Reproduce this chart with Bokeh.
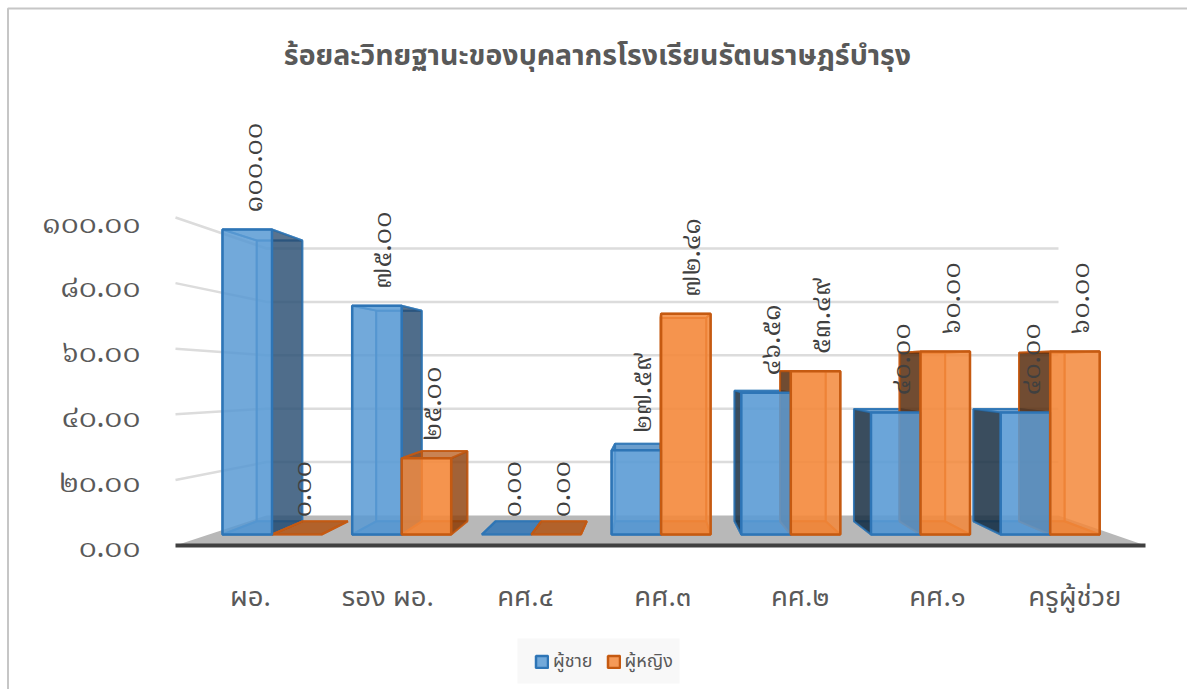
import math
from bokeh.plotting import figure
from bokeh.embed import file_html
from bokeh.resources import INLINE
from bokeh.models import (ColumnDataSource, Range1d, LinearAxis, FixedTicker, Legend, LegendItem)
from bokeh.core.properties import value

# ---------- data ----------
categories = ["ผอ.", "รอง ผอ.", "คศ.๔", "คศ.๓", "คศ.๒", "คศ.๑", "ครูผู้ช่วย"]
male = [100.0, 75.0, 0.0, 27.59, 46.51, 40.0, 40.0]
female = [0.0, 25.0, 0.0, 72.41, 53.49, 60.0, 60.0]
y_ticks = [0, 20, 40, 60, 80, 100]
series_names = ["ผู้ชาย", "ผู้หญิง"]
title_text = "ร้อยละวิทยฐานะของบุคลากรโรงเรียนรัตนราษฎร์บำรุง"

# ---------- layout: a 3D look, page pixels ----------
W, H = 1187, 689
FONT = "Noto Sans Thai"
NUMFONT = "Noto Serif Thai"
TH = str.maketrans("0123456789", "๐๑๒๓๔๕๖๗๘๙")
def thai(v): return f"{v:.2f}".translate(TH)

K, VX, VY = 0.921, 655.0, 367.0           # bar depth projection
BASE, PX = 534.0, 3.05                    # front plane of the bars
X0, STEP, BW = 222.0, 129.7, 49.5
def prj(x, y): return VX + K * (x - VX), VY + K * (y - VY)

WL, WR = 175.0, 1145.0                    # wall / floor plane
WBL, WBR = 266.0, 1058.0
WF0, WFU, WB0, WBU = 545.0, 3.28, 515.0, 2.67

p = figure(width=W, height=H, x_range=Range1d(0, W), y_range=Range1d(H, 0),
           output_backend="svg", toolbar_location=None, min_border=0,
           x_axis_type=None, y_axis_type=None)
p.xgrid.visible = False
p.ygrid.visible = False
p.outline_line_color = None
p.background_fill_color = "white"

# chart frame: left and top edges only are visible
p.line([7.5, 7.5, W], [H, 8, 8], line_color="#C6C6C6", line_width=2)

# value and category scales of the axes
TICK0, TICKU = 548.0, 3.24
p.extra_y_ranges["val"] = Range1d((TICK0 - H) / TICKU, TICK0 / TICKU)
C0, CS = 250.0, 137.4
p.extra_x_ranges["cat"] = Range1d(-C0 / CS, (W - C0) / CS)

yax = LinearAxis(y_range_name="val", fixed_location=150, ticker=FixedTicker(ticks=y_ticks),
                 major_label_overrides={t: thai(t) for t in y_ticks},
                 axis_line_color=None, major_tick_line_color=None, minor_tick_line_color=None,
                 major_label_text_font=NUMFONT, major_label_text_font_size="30px",
                 major_label_text_color="#595959", major_label_standoff=4)
p.add_layout(yax, "left")
cat_idx = list(range(len(categories)))
xax = LinearAxis(x_range_name="cat", fixed_location=570, ticker=FixedTicker(ticks=cat_idx),
                 major_label_overrides=dict(zip(cat_idx, categories)),
                 axis_line_color=None, major_tick_line_color=None, minor_tick_line_color=None,
                 major_label_text_font=FONT, major_label_text_font_size="27.5px",
                 major_label_text_color="#595959", major_label_standoff=0)
p.add_layout(xax, "below")

# title
p.text(x=[597], y=[56], text=[title_text], text_align="center", text_baseline="middle",
       text_font=value(FONT), text_font_style="bold", text_font_size="28.5px", text_color="#595959")

# legend backing panel
p.quad(left=[517], right=[679], top=[638], bottom=[683], fill_color="#F8F8F8", line_color=None)

# floor, gridlines
p.patch([WL, WR, WBR, WBL], [WF0, WF0, WB0, WB0], fill_color="#B8B8B8", line_color=None)
gx = [[WL, WBL, WBR] for t in y_ticks if t > 0]
gy = [[WF0 - t * WFU, WB0 - t * WBU, WB0 - t * WBU] for t in y_ticks if t > 0]
p.multi_line(gx, gy, line_color="#DCDCDC", line_width=2.5)
p.line([WL, WR], [WF0, WF0], line_color="#404040", line_width=4)

STY = [dict(front="#5B9BD5", edge="#2E75B6", back="#5B9BD5", left="#16293A", right="#27486A", top="#2E75B6", bottom="#2E75B6"),
       dict(front="#F5893C", edge="#C55A11", back="#ED7D31", left="#4F2A10", right="#843C0C", top="#A84F10", bottom="#C55A11")]
ALPHA = dict(back=0.35, left=0.8, right=0.75, top=0.6, bottom=0.6)

def faces(i, s, v):
    xl = X0 + STEP * i + s * BW
    xr = xl + BW
    yt = BASE - v * PX
    blx, bty = prj(xl, yt)
    brx, bby = prj(xr, BASE)
    out = {"back": ([blx, brx, brx, blx], [bty, bty, bby, bby]),
           "bottom": ([xl, xr, brx, blx], [BASE, BASE, bby, bby]),
           "top": ([xl, xr, brx, blx], [yt, yt, bty, bty]),
           "left": ([xl, blx, blx, xl], [yt, bty, bby, BASE]),
           "right": ([xr, brx, brx, xr], [yt, bty, bby, BASE])}
    return out, ([xl, xr, xr, xl], [yt, yt, BASE, BASE])

def inner(s, vals):
    st = STY[s]
    for i, v in enumerate(vals):
        f, _ = faces(i, s, v)
        xr0 = X0 + STEP * i + s * BW + BW
        show_right = prj(xr0, 0)[0] > xr0
        show_left = not prj(xr0 - BW, 0)[0] > xr0 - BW
        for k in ["back", "bottom", "top", "left", "right"]:
            a = ALPHA[k]
            if k == "left" and not show_left: a = 0.05
            if k == "right" and not show_right: a = 0.05
            if k == "top" and BASE - v * PX < VY: a = 0.08
            if k == "back" and v == 0: continue
            p.patch(f[k][0], f[k][1], fill_color=st[k], fill_alpha=a,
                    line_color=st["edge"], line_width=2, line_alpha=0.75)

inner(0, male)
inner(1, female)

legend_r = []
for s, vals in enumerate([male, female]):
    st = STY[s]
    xs, ys = [], []
    for i, v in enumerate(vals):
        if v == 0: continue
        _, fr = faces(i, s, v)
        xs.append(fr[0]); ys.append(fr[1])
    r = p.patches(xs, ys, fill_color=st["front"], fill_alpha=0.85, line_color=st["edge"], line_width=2.5)
    legend_r.append(r)

# data labels
for s, vals in enumerate([male, female]):
    lx = [X0 + STEP * i + s * BW + 32 for i in range(len(vals))]
    ly = [BASE - v * PX - 17 for v in vals]
    p.text(x=lx, y=ly, text=[thai(v) for v in vals], angle=math.pi / 2, text_align="left",
           text_baseline="middle", text_font=value(NUMFONT), text_font_size="27.5px", text_color="#404040")

leg = Legend(items=[LegendItem(label=n, renderers=[r]) for n, r in zip(series_names, legend_r)],
             orientation="horizontal", location=(534, 14), background_fill_alpha=0,
             border_line_color=None, glyph_width=15, glyph_height=15,
             label_text_font=FONT, label_text_font_size="18px", label_text_color="#595959",
             padding=14, spacing=13, margin=0, label_standoff=4)
p.add_layout(leg)

open("out.html", "w").write(file_html(p, INLINE))
